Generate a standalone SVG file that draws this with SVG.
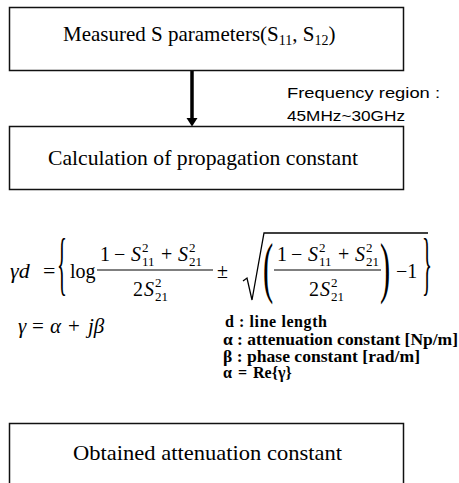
<svg xmlns="http://www.w3.org/2000/svg" width="459" height="483" viewBox="0 0 459 483">
<style>
.box{fill:#fff;stroke:#111;stroke-width:1.5}
.t{font-family:"Liberation Serif",serif;font-size:21px;fill:#000}
.s{font-family:"Liberation Sans",Arial,sans-serif;font-size:15px;fill:#000}
.m{font-family:"Liberation Serif",serif;font-size:20px;fill:#000}
.i{font-style:italic}
.sm{font-family:"Liberation Serif",serif;font-size:13px;fill:#000}
.b{font-family:"Liberation Serif",serif;font-size:16px;font-weight:bold;fill:#000}
.br{font-family:"Liberation Serif",serif;fill:#000}
</style>
<rect width="459" height="483" fill="#fff"/>
<g id="connectors">
<line x1="192" y1="71" x2="192" y2="119" stroke="#000" stroke-width="3.5"/>
<polygon points="186.5,118 197.5,118 192,126.5" fill="#000"/>
</g>
<g id="node-measured">
<rect class="box" x="9.5" y="7.5" width="394" height="63"/>
<text class="t" x="63" y="41">Measured S parameters(S<tspan style="font-size:14px" dy="4">11</tspan><tspan dy="-4">, S</tspan><tspan style="font-size:14px" dy="4">12</tspan><tspan dy="-4">)</tspan></text>
</g>
<g id="label-frequency">
<text class="s" x="287" y="98" textLength="153" lengthAdjust="spacingAndGlyphs">Frequency region :</text>
<text class="s" x="287" y="121" textLength="118" lengthAdjust="spacingAndGlyphs">45MHz~30GHz</text>
</g>
<g id="node-calculation">
<rect class="box" x="9.5" y="126.5" width="394" height="63"/>
<text class="t" x="48" y="165" textLength="310" lengthAdjust="spacingAndGlyphs">Calculation of propagation constant</text>
</g>
<g id="formula">
<text class="m i" x="10" y="278" style="font-size:22px">γd</text>
<text class="m" x="43" y="278" style="font-size:22px">=</text>
<text class="br" transform="translate(57,287) scale(0.3,1)" style="font-size:69px">{</text>
<text class="m" x="70" y="278">log</text>
<line x1="97" y1="270" x2="213" y2="270" stroke="#000" stroke-width="1"/>
<text class="m" x="100" y="261">1</text>
<text class="m" x="114" y="261">−</text>
<text class="m i" x="131" y="261">S</text>
<text class="sm" x="142" y="252">2</text>
<text class="sm" x="142" y="266">11</text>
<text class="m" x="161" y="261">+</text>
<text class="m i" x="178" y="261">S</text>
<text class="sm" x="189" y="252">2</text>
<text class="sm" x="189" y="266">21</text>
<text class="m" x="133" y="296">2</text>
<text class="m i" x="144" y="296">S</text>
<text class="sm" x="155" y="287">2</text>
<text class="sm" x="155" y="301">21</text>
<text class="m" x="217" y="278">±</text>
<polyline points="243,281 247,278 252,300 264,233 428,233" fill="none" stroke="#000" stroke-width="1.3"/>
<text class="br" transform="translate(263,290) scale(0.45,1)" style="font-size:68px">(</text>
<line x1="274" y1="270" x2="381" y2="270" stroke="#000" stroke-width="1"/>
<text class="m" x="277" y="261">1</text>
<text class="m" x="291" y="261">−</text>
<text class="m i" x="308" y="261">S</text>
<text class="sm" x="319" y="252">2</text>
<text class="sm" x="319" y="266">11</text>
<text class="m" x="338" y="261">+</text>
<text class="m i" x="355" y="261">S</text>
<text class="sm" x="366" y="252">2</text>
<text class="sm" x="366" y="266">21</text>
<text class="m" x="309" y="296">2</text>
<text class="m i" x="320" y="296">S</text>
<text class="sm" x="331" y="287">2</text>
<text class="sm" x="331" y="301">21</text>
<text class="br" transform="translate(380,290) scale(0.45,1)" style="font-size:68px">)</text>
<text class="m" x="396" y="278">−1</text>
<text class="br" transform="translate(422,287) scale(0.3,1)" style="font-size:69px">}</text>
<text class="m i" x="18" y="333" style="font-size:21px">γ</text>
<text class="m" x="32" y="333" style="font-size:21px">=</text>
<text class="m i" x="50" y="333" style="font-size:21px">α</text>
<text class="m" x="68" y="333" style="font-size:21px">+</text>
<text class="m i" x="88" y="333" style="font-size:21px">jβ</text>
</g>
<g id="legend">
<text class="b" x="225" y="327" textLength="102" lengthAdjust="spacing">d : line length</text>
<text class="b" x="223" y="345" textLength="235" lengthAdjust="spacingAndGlyphs">α : attenuation constant [Np/m]</text>
<text class="b" x="223" y="362" textLength="197" lengthAdjust="spacingAndGlyphs">β : phase constant [rad/m]</text>
<text class="b" x="223" y="378">α</text>
<text class="b" x="238" y="378">=</text>
<text class="b" x="253" y="378">Re{γ}</text>
</g>
<g id="node-obtained">
<rect class="box" x="9.5" y="423.5" width="394" height="70"/>
<text class="t" x="73" y="460" textLength="269" lengthAdjust="spacingAndGlyphs">Obtained attenuation constant</text>
</g>
</svg>
